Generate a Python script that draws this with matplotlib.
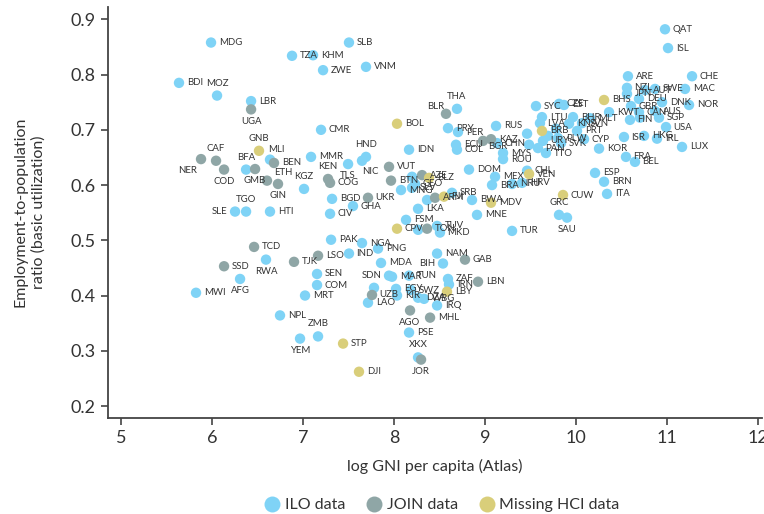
import matplotlib
matplotlib.use("Agg")
import matplotlib.pyplot as plt
from matplotlib.lines import Line2D

plt.rcParams['font.family'] = ['Lato', 'DejaVu Sans']

# ILO employment data
ilo_code = ["MDG", "TZA", "KHM", "ZWE", "SLB", "VNM", "BDI", "MOZ", "LBR", "CMR",
            "MLI", "MMR", "BFA", "TGO", "SLE", "HTI", "KGZ", "TLS", "NIC", "HND",
            "BGD", "GHA", "CIV", "RWA", "AFG", "MWI", "SEN", "COM", "MRT", "NPL",
            "ZMB", "YEM", "PAK", "NGA", "PNG", "IND", "MDA", "NAM", "BIH", "SDN",
            "MAR", "TUN", "ZAF", "IRN", "SYR", "LAO", "EGY", "KIR", "SWZ", "DZA",
            "WBG", "IRQ", "PSE", "XKX", "IDN", "MNG", "PHL", "GEO", "SLV", "SRB",
            "ALB", "LKA", "BWA", "MNE", "FSM", "TUV", "MKD", "JAM", "TUR", "DOM",
            "ECU", "COL", "THA", "PRY", "PER", "RUS", "CHN", "MYS", "ROU", "MEX",
            "BRA", "NRU", "HRV", "CHL", "GRC", "SAU", "ITA", "BRN", "ESP", "FRA",
            "BEL", "KOR", "CYP", "ISR", "HKG", "IRL", "LUX", "TTO", "SYC", "CZE",
            "EST", "LTU", "LVA", "BHR", "SVN", "MLT", "KNA", "PRT", "HUN", "PLW",
            "URY", "SVK", "PAN", "POL", "CRI", "OMN", "QAT", "ISL", "ARE", "CHE",
            "MAC", "NOR", "KWT", "NZL", "JPN", "AUT", "SWE", "DEU", "DNK", "GBR",
            "CAN", "AUS", "FIN", "NLD", "SGP", "USA"]
ilo_gni = [5.989, 6.879, 7.110, 7.220, 7.505, 7.692, 5.637, 6.055, 6.429, 7.198,
           6.637, 7.088, 6.374, 6.374, 6.253, 6.637, 7.011, 7.495, 7.648, 7.692,
           7.319, 7.549, 7.297, 6.593, 6.308, 5.824, 7.154, 7.154, 7.022, 6.747,
           7.165, 6.967, 7.308, 7.648, 7.824, 7.505, 7.857, 8.473, 8.538, 7.945,
           7.978, 8.165, 8.593, 8.604, 7.780, 7.714, 8.022, 8.033, 8.187, 8.264,
           8.330, 8.473, 8.165, 8.264, 8.165, 8.077, 8.198, 8.231, 8.198, 8.637,
           8.363, 8.264, 8.857, 8.912, 8.132, 8.473, 8.505, 8.264, 9.297, 8.824,
           8.681, 8.692, 8.692, 8.593, 8.703, 9.121, 9.132, 9.198, 9.198, 9.110,
           9.077, 9.297, 9.407, 9.462, 9.813, 9.901, 10.341, 10.308, 10.209, 10.549,
           10.648, 10.253, 10.088, 10.527, 10.747, 10.890, 11.165, 9.670, 9.560, 9.813,
           9.868, 9.626, 9.604, 9.967, 10.066, 10.154, 9.923, 10.011, 9.780, 9.802,
           9.637, 9.835, 9.582, 9.462, 9.484, 9.692, 10.978, 11.011, 10.571, 11.275,
           11.198, 11.242, 10.363, 10.560, 10.560, 10.758, 10.868, 10.692, 10.945, 10.604,
           10.692, 10.868, 10.593, 10.703, 10.912, 10.989]
ilo_epr = [0.858, 0.834, 0.835, 0.808, 0.858, 0.814, 0.785, 0.762, 0.752, 0.700,
           0.646, 0.651, 0.628, 0.552, 0.552, 0.552, 0.593, 0.638, 0.644, 0.651,
           0.575, 0.562, 0.548, 0.465, 0.430, 0.405, 0.439, 0.419, 0.400, 0.364,
           0.326, 0.322, 0.501, 0.495, 0.485, 0.476, 0.459, 0.476, 0.458, 0.436,
           0.434, 0.436, 0.430, 0.420, 0.414, 0.387, 0.412, 0.400, 0.410, 0.396,
           0.394, 0.382, 0.333, 0.288, 0.664, 0.591, 0.615, 0.602, 0.595, 0.586,
           0.573, 0.557, 0.573, 0.546, 0.537, 0.526, 0.514, 0.519, 0.517, 0.628,
           0.673, 0.664, 0.738, 0.703, 0.696, 0.707, 0.676, 0.658, 0.647, 0.615,
           0.600, 0.602, 0.604, 0.626, 0.546, 0.541, 0.584, 0.606, 0.622, 0.651,
           0.642, 0.666, 0.683, 0.687, 0.689, 0.684, 0.669, 0.658, 0.743, 0.747,
           0.745, 0.723, 0.712, 0.723, 0.712, 0.721, 0.711, 0.698, 0.702, 0.685,
           0.680, 0.676, 0.667, 0.693, 0.673, 0.689, 0.882, 0.848, 0.797, 0.797,
           0.774, 0.745, 0.732, 0.776, 0.765, 0.772, 0.774, 0.756, 0.750, 0.743,
           0.732, 0.734, 0.718, 0.722, 0.722, 0.705]

# JOIN survey data
join_code = ["UGA", "BEN", "NER", "CAF", "COD", "GMB", "ETH", "GIN", "KEN", "COG",
             "VUT", "BTN", "UKR", "TCD", "SSD", "TJK", "LSO", "GAB", "LBN", "UZB",
             "AGO", "MHL", "JOR", "AZE", "ARM", "TON", "BLR", "KAZ", "BGR"]
join_gni = [6.429, 6.681, 5.879, 6.044, 6.132, 6.473, 6.604, 6.725, 7.275, 7.297,
            7.945, 7.967, 7.714, 6.462, 6.132, 6.901, 7.165, 8.780, 8.923, 7.758,
            8.176, 8.396, 8.297, 8.308, 8.451, 8.363, 8.571, 9.066, 8.978]
join_epr = [0.737, 0.640, 0.647, 0.644, 0.628, 0.629, 0.608, 0.602, 0.611, 0.604,
            0.633, 0.608, 0.577, 0.488, 0.453, 0.461, 0.472, 0.465, 0.425, 0.401,
            0.373, 0.360, 0.284, 0.618, 0.577, 0.521, 0.729, 0.683, 0.680]

# countries without a Human Capital Index value
miss_code = ["GNB", "BOL", "BLZ", "FJI", "CPV", "MDV", "VEN", "BRB", "CUW", "BHS",
             "LBY", "STP", "DJI"]
miss_gni = [6.516, 8.033, 8.385, 8.549, 8.033, 9.066, 9.484, 9.626, 9.857, 10.308,
            8.582, 7.440, 7.615]
miss_epr = [0.662, 0.711, 0.613, 0.579, 0.521, 0.568, 0.620, 0.698, 0.582, 0.754,
            0.407, 0.313, 0.262]

# where each label sits relative to its dot (default: right)
label_side = {
    "MOZ": "t", "UGA": "b", "GNB": "t", "MLI": "ur", "NER": "bl", "CAF": "t",
    "COD": "b", "BFA": "t", "GMB": "b", "ETH": "tr", "GIN": "b", "TGO": "t",
    "SLE": "l", "KGZ": "t", "KEN": "t", "TLS": "b", "NIC": "br", "HND": "t",
    "RWA": "b", "AFG": "b", "ZMB": "t", "YEM": "b", "BIH": "l", "SDN": "l",
    "AGO": "b", "XKX": "t", "JOR": "b", "BLR": "tl", "THA": "t", "GRC": "t",
    "SAU": "b", "BGR": "dr",
    "SYR": None, "PHL": None, "ALB": None, "JAM": None, "HUN": None,
    "POL": None, "CRI": None, "OMN": None, "NLD": None,
}
offsets = {
    "r": (5.5, 0, "left"), "l": (-5.5, 0, "right"),
    "t": (0, 9, "center"), "b": (0, -8.5, "center"),
    "tl": (-1.5, 5, "right"), "tr": (5, 6, "left"), "ur": (-1, 7, "left"),
    "br": (0, -8, "left"), "bl": (-3, -8.5, "right"), "dr": (4, -4, "left"),
}

c_ilo = "#7fd3f6"
c_join = "#8fa6a6"
c_miss = "#d9ce7a"
txt = "#333333"

fig = plt.figure(figsize=(7.64, 5.14), dpi=100)
ax = fig.add_axes([0.1414, 0.187, 0.856, 0.799])

groups = [(ilo_code, ilo_gni, ilo_epr, c_ilo),
          (join_code, join_gni, join_epr, c_join),
          (miss_code, miss_gni, miss_epr, c_miss)]
for codes, xs, ys, col in groups:
    ax.scatter(xs, ys, s=56, color=col, edgecolors="none", zorder=2)

for codes, xs, ys, col in groups:
    for c, x, y in zip(codes, xs, ys):
        side = label_side.get(c, "r")
        if side is None:
            continue
        dx, dy, ha = offsets[side]
        ax.annotate(c, (x, y), xytext=(dx, dy), textcoords="offset points",
                    ha=ha, va="center", fontsize=6.9, color=txt, zorder=3)

ax.set_xlim(4.857, 12.044)
ax.set_ylim(0.1785, 0.922)
ax.set_xticks(range(5, 13))
ax.set_yticks([0.2, 0.3, 0.4, 0.5, 0.6, 0.7, 0.8, 0.9])
ax.set_yticklabels(["0.2", "0.3", "0.4", "0.5", "0.6", "0.7", "0.8", "0.9"])
for s in ["top", "right"]:
    ax.spines[s].set_visible(False)
for s in ["left", "bottom"]:
    ax.spines[s].set_color("#444444")
    ax.spines[s].set_linewidth(1.3)
ax.tick_params(axis="both", colors="#444444", labelcolor=txt, labelsize=13,
               length=5, width=1.2)
ax.tick_params(axis="x", pad=4)
ax.tick_params(axis="y", pad=4)

fig.text(435 / 764, 1 - 466 / 514, "log GNI per capita (Atlas)", ha="center",
         va="center", fontsize=11.5, color=txt)
fig.text(30 / 764, 1 - 212 / 514, "Employment-to-population\nratio (basic utilization)",
         rotation=90, ha="center", va="center", fontsize=11.5, color=txt,
         linespacing=1.35)

handles = [Line2D([], [], marker="o", linestyle="none", markersize=11.5,
                  markerfacecolor=col, markeredgecolor="none")
           for col in (c_ilo, c_join, c_miss)]
fig.legend(handles, ["ILO data", "JOIN data", "Missing HCI data"], ncol=3,
           loc="center", bbox_to_anchor=(441 / 764, 1 - 505 / 514),
           frameon=False, fontsize=11.5, handletextpad=0.2,
           columnspacing=1.2, labelcolor=txt, handlelength=1.2)

fig.savefig("out.png", dpi=100)
